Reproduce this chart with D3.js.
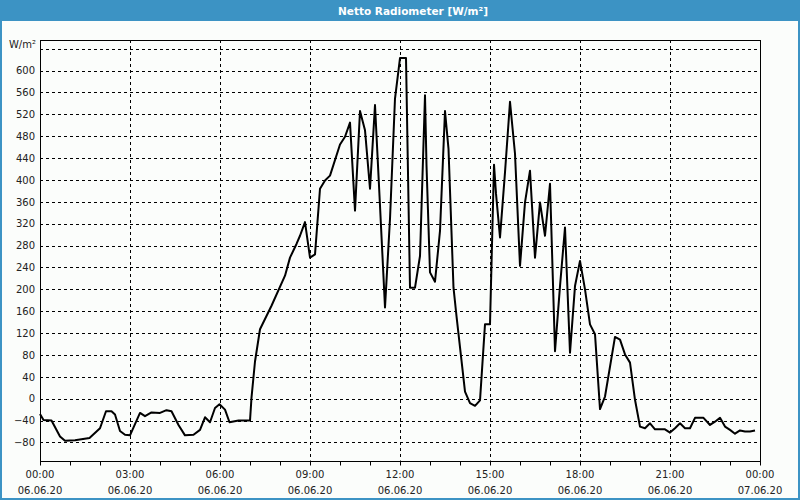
<!DOCTYPE html>
<html>
<head>
<meta charset="utf-8">
<script src="https://cdn.jsdelivr.net/npm/d3@7"></script>
<style>
  html, body { margin: 0; padding: 0; background: #fbfdfb; }
  svg { display: block; }
</style>
</head>
<body>
<script>
// ---- data ----
const title = "Netto Radiometer [W/m²]";
const unitLabel = "W/m²";
// minutes after 06.06.20 00:00
const minutes = [0,7,23,40,50,70,99,120,132,143,150,160,170,180,200,210,223,240,253,263,277,290,307,320,330,340,350,359,370,379,397,420,
  423,430,440,463,490,500,513,520,530,540,550,560,570,580,600,610,620,630,640,650,660,670,680,690,700,710,720,732,740,750,760,770,773,780,790,800,
  810,817,827,833,850,860,870,880,890,900,908,912,920,930,940,950,960,970,980,990,1000,1010,1020,1030,1040,1050,1060,1070,1080,1090,1100,1110,1120,1130,
  1150,1160,1170,1180,1190,1200,1210,1220,1230,1250,1260,1270,1280,1290,1300,1310,1327,1340,1350,1360,1370,1380,1390,1400,1410,1420,1430];
const values = [-28,-39,-40,-69,-77,-76,-72,-54,-23,-23,-29,-59,-66,-67,-26,-32,-25,-26,-21,-23,-48,-67,-66,-57,-34,-43,-17,-10,-20,-43,-40,-40,
  2,68,127,170,225,258,283,298,323,258,264,384,399,408,465,479,505,344,526,491,384,537,353,167,329,549,623,623,203,203,261,555,427,231,214,307,
  526,457,203,151,13,-8,-13,-3,136,136,428,375,295,414,543,448,243,359,417,258,359,298,393,87,206,313,84,206,252,200,136,118,-19,4,
  113,108,81,66,-2,-51,-54,-45,-56,-56,-62,-54,-45,-54,-54,-35,-35,-48,-42,-35,-51,-57,-64,-58,-60,-60,-58];
const yTicks = [-80,-40,0,40,80,120,160,200,240,280,320,360,400,440,480,520,560,600,640];
const timeLabels = ["00:00","03:00","06:00","09:00","12:00","15:00","18:00","21:00","00:00"];
const dateLabels = ["06.06.20","06.06.20","06.06.20","06.06.20","06.06.20","06.06.20","06.06.20","06.06.20","07.06.20"];

// ---- layout ----
const W = 800, H = 500;
const pL = 40, pR = 760, pT = 40, pB = 460.5;
const font = "DejaVu Sans";

const svg = d3.select("body").append("svg").attr("width", W).attr("height", H);
svg.append("rect").attr("x", 0).attr("y", 0).attr("width", W).attr("height", H).attr("fill", "#fbfdfb");
// title bar
svg.append("rect").attr("x", 0).attr("y", 0).attr("width", W).attr("height", 21).attr("fill", "#3c93c4");
svg.append("text").attr("x", 413).attr("y", 14.5).attr("text-anchor", "middle")
  .attr("font-family", font).attr("font-size", 10.5).attr("font-weight", "bold").attr("fill", "#ffffff").text(title);
// outer blue frame
svg.append("line").attr("x1", 1).attr("x2", 1).attr("y1", 0).attr("y2", H).attr("stroke", "#3c93c4").attr("stroke-width", 2);
svg.append("line").attr("x1", 0).attr("x2", W).attr("y1", H - 1).attr("y2", H - 1).attr("stroke", "#3c93c4").attr("stroke-width", 2);
svg.append("line").attr("x1", W - 1).attr("x2", W - 1).attr("y1", 0).attr("y2", H).attr("stroke", "#3c93c4").attr("stroke-width", 2);

const t0 = new Date(2020, 5, 6, 0, 0);
const t1 = new Date(2020, 5, 7, 0, 0);
const x = d3.scaleTime().domain([t0, t1]).range([pL, pR]);
const y = d3.scaleLinear().domain([-113, 656]).range([pB, pT]);
const dates = minutes.map(m => new Date(t0.getTime() + m * 60000));

// horizontal grid
svg.append("g").selectAll("line").data(yTicks).join("line")
  .attr("x1", pL).attr("x2", pR)
  .attr("y1", d => Math.round(y(d)) + 0.5).attr("y2", d => Math.round(y(d)) + 0.5)
  .attr("stroke", "#000").attr("stroke-dasharray", "3,3").attr("stroke-width", 1);
// vertical grid
const majorTimes = d3.range(0, 9).map(i => new Date(t0.getTime() + i * 3 * 3600000));
svg.append("g").selectAll("line").data(majorTimes.slice(1, -1)).join("line")
  .attr("x1", d => Math.round(x(d)) + 0.5).attr("x2", d => Math.round(x(d)) + 0.5)
  .attr("y1", pT).attr("y2", pB)
  .attr("stroke", "#000").attr("stroke-dasharray", "3,3").attr("stroke-width", 1);

// y axis labels
const yAxis = d3.axisLeft(y).tickValues(yTicks.slice(0, -1)).tickSize(0).tickPadding(5);
const gy = svg.append("g").attr("transform", `translate(${pL},0)`).call(yAxis);
gy.select(".domain").remove();
gy.selectAll("text").attr("font-family", font).attr("font-size", 10).attr("fill", "#222");
svg.append("text").attr("x", 36).attr("y", y(640) - 0.5).attr("text-anchor", "end")
  .attr("font-family", font).attr("font-size", 10).attr("fill", "#222").text(unitLabel);

// x axis (ticks)
const hourTimes = d3.range(0, 25).map(i => new Date(t0.getTime() + i * 3600000));
const xAxis = d3.axisBottom(x).tickValues(hourTimes).tickSize(4).tickFormat("");
const gx = svg.append("g").attr("transform", `translate(0,${Math.round(pB) + 0.5})`).call(xAxis);
gx.select(".domain").remove();
gx.selectAll(".tick line").attr("stroke", "#000");
const lab = svg.append("g").selectAll("g").data(majorTimes).join("g")
  .attr("transform", d => `translate(${x(d)},0)`);
lab.append("text").attr("y", 478).attr("text-anchor", "middle")
  .attr("font-family", font).attr("font-size", 10).attr("fill", "#222")
  .text((d, i) => timeLabels[i]);
lab.append("text").attr("y", 494).attr("text-anchor", "middle")
  .attr("font-family", font).attr("font-size", 10).attr("fill", "#222")
  .text((d, i) => dateLabels[i]);

// plot frame
svg.append("rect").attr("x", pL + 0.5).attr("y", pT + 0.5)
  .attr("width", pR - pL).attr("height", Math.round(pB) - pT)
  .attr("fill", "none").attr("stroke", "#000").attr("stroke-width", 1);

// data line
const line = d3.line().x((d, i) => x(dates[i])).y(d => y(d));
svg.append("path").datum(values).attr("d", line)
  .attr("fill", "none").attr("stroke", "#000").attr("stroke-width", 2).attr("stroke-linejoin", "round");
</script>
</body>
</html>
